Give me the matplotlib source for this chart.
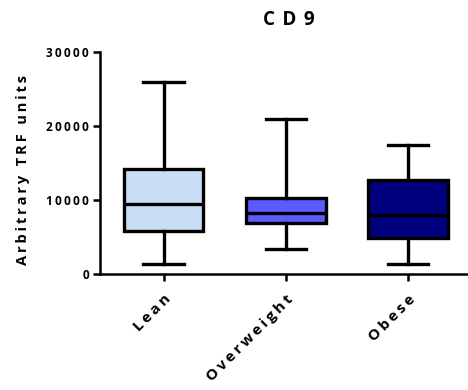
import matplotlib
matplotlib.use("Agg")
import matplotlib.pyplot as plt
import matplotlib.transforms as mtransforms

categories = ["Lean", "Overweight", "Obese"]
whisker_low = [1430, 3460, 1430]
q1 = [5850, 6890, 4950]
median = [9500, 8240, 8010]
q3 = [14200, 10350, 12740]
whisker_high = [26000, 21000, 17470]
colors = ["#C9DDF6", "#5B5BFF", "#00007F"]
yticks = [0, 10000, 20000, 30000]
title = "CD9"
ylabel = "Arbitrary TRF units"

plt.rcParams['font.family'] = ['Open Sans', 'DejaVu Sans']

def spaced(s, gap="\u2009"):
    # letter-spaced rendering (thin spaces between glyphs)
    return gap.join(s)

fig = plt.figure(figsize=(4.68, 3.9), dpi=100)
ax = fig.add_axes([0.2137, 0.297, 0.7863, 0.569])

stats = []
for i, c in enumerate(categories):
    stats.append(dict(label=c, whislo=whisker_low[i], q1=q1[i], med=median[i],
                      q3=q3[i], whishi=whisker_high[i], fliers=[]))

lw = 2.4
bp = ax.bxp(stats, positions=range(len(categories)), widths=0.65, patch_artist=True,
            showfliers=False, capwidths=0.33,
            boxprops=dict(linewidth=lw, edgecolor='black'),
            medianprops=dict(linewidth=lw, color='black'),
            whiskerprops=dict(linewidth=lw, color='black'),
            capprops=dict(linewidth=lw, color='black'))
for patch, col in zip(bp['boxes'], colors):
    patch.set_facecolor(col)

ax.set_xlim(-0.52, 2.49)
ax.set_ylim(0, 30000)
ax.set_yticks(yticks)
ax.set_yticklabels([spaced(str(v)) for v in yticks], fontsize=8.5, fontweight='bold')
ax.set_xticks(range(len(categories)))
ax.set_xticklabels([spaced(c) for c in categories], rotation=45, ha='right',
                   rotation_mode='anchor', fontsize=11, fontweight='bold')
offset = mtransforms.ScaledTranslation(-4 / 100, 0, fig.dpi_scale_trans)
for lab in ax.get_xticklabels():
    lab.set_transform(lab.get_transform() + offset)
for s in ['top', 'right']:
    ax.spines[s].set_visible(False)
for s in ['left', 'bottom']:
    ax.spines[s].set_linewidth(1.8)
ax.tick_params(axis='y', width=1.8, length=5, pad=3)
ax.tick_params(axis='x', width=1.8, length=5, pad=8)
ax.set_ylabel(spaced(ylabel), fontsize=10.5, fontweight='bold')
ax.yaxis.set_label_coords(-0.19, 0.47)
ax.set_title(spaced(title, "\u2009\u2009"), fontsize=13.5, fontweight='bold',
             pad=19.5, x=0.514)

fig.savefig("out.png", dpi=100)
